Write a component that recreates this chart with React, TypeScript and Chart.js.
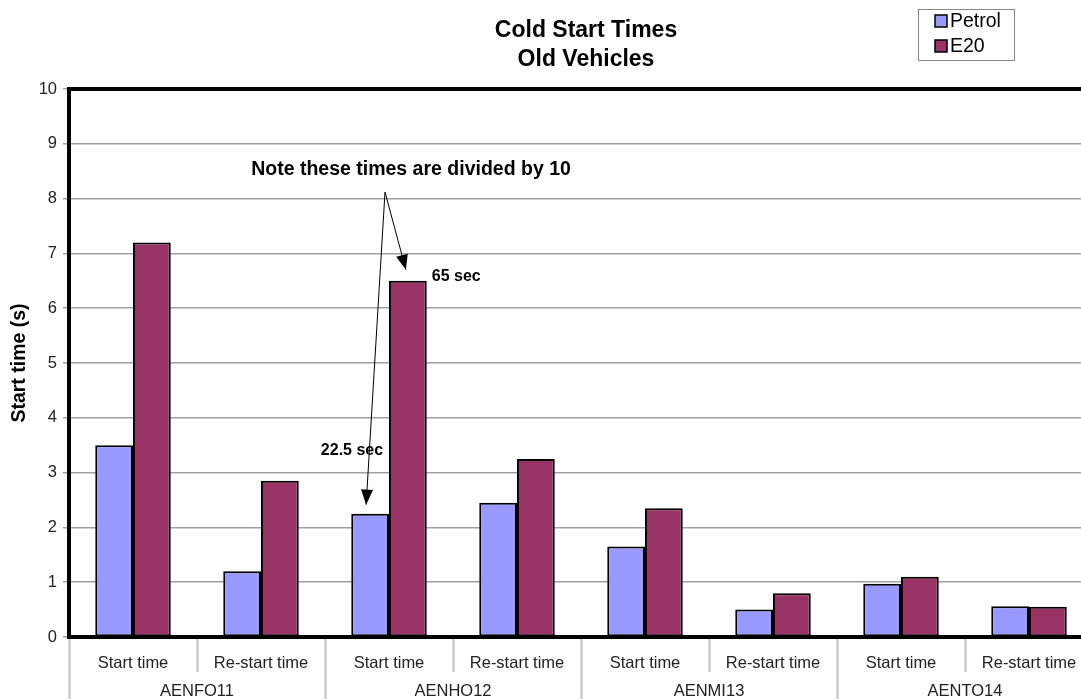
import { useEffect, useRef } from 'react';
import { Chart, registerables } from 'chart.js';

Chart.register(...registerables);

// chart data
const groups = ['AENFO11', 'AENHO12', 'AENMI13', 'AENTO14'];
const categories = [
  'Start time', 'Re-start time',
  'Start time', 'Re-start time',
  'Start time', 'Re-start time',
  'Start time', 'Re-start time',
];
const petrol = [3.5, 1.2, 2.25, 2.45, 1.65, 0.5, 0.97, 0.56];
const e20 = [7.2, 2.85, 6.5, 3.25, 2.35, 0.8, 1.1, 0.55];
const yTicks = [0, 1, 2, 3, 4, 5, 6, 7, 8, 9, 10];

const FONT = '"Liberation Sans", Arial, sans-serif';

// separators, frame, title, legend and the notes
const extrasPlugin = {
  id: 'extras',
  afterDraw(chart: any) {
    const ctx = chart.ctx;
    const area = chart.chartArea;
    const x = chart.scales.x;
    const step = (area.right - area.left) / categories.length;

    ctx.save();
    // category and group separators
    ctx.strokeStyle = '#c0c0c0';
    ctx.lineWidth = 2;
    for (let i = 0; i <= categories.length; i++) {
      const px = Math.round(area.left + i * step) + 0.5;
      ctx.beginPath();
      ctx.moveTo(px, area.bottom);
      ctx.lineTo(px, i % 2 === 0 ? chart.height : area.bottom + 35);
      ctx.stroke();
    }

    // thick frame: left, top, bottom
    ctx.strokeStyle = '#000';
    ctx.lineWidth = 4;
    ctx.beginPath();
    ctx.moveTo(area.right + 10, area.top);
    ctx.lineTo(area.left, area.top);
    ctx.lineTo(area.left, area.bottom);
    ctx.lineTo(area.right + 10, area.bottom);
    ctx.stroke();

    // title
    ctx.fillStyle = '#000';
    ctx.font = `bold 23px ${FONT}`;
    ctx.textAlign = 'center';
    ctx.textBaseline = 'middle';
    ctx.fillText('Cold Start Times', 586, 31);
    ctx.fillText('Old Vehicles', 586, 60);

    // legend
    ctx.strokeStyle = '#888';
    ctx.lineWidth = 1;
    ctx.strokeRect(918.5, 9.5, 96, 51);
    ctx.font = `19.5px ${FONT}`;
    ctx.textAlign = 'left';
    chart.data.datasets.forEach((ds: any, i: number) => {
      const cy = 21 + i * 25;
      ctx.fillStyle = ds.backgroundColor;
      ctx.fillRect(935, cy - 6, 12, 12);
      ctx.strokeStyle = '#000';
      ctx.lineWidth = 1.5;
      ctx.strokeRect(935, cy - 6, 12, 12);
      ctx.fillStyle = '#000';
      ctx.fillText(ds.label, 950, cy + 1);
    });

    // note with arrows
    const y = chart.scales.y;
    const pBar = chart.getDatasetMeta(0).data[2];
    const eBar = chart.getDatasetMeta(1).data[2];
    const cx = x.getPixelForValue(2);
    ctx.font = `bold 19.5px ${FONT}`;
    ctx.textAlign = 'center';
    ctx.fillText('Note these times are divided by 10', cx + 22, y.getPixelForValue(8.52));

    const ox = cx - 4;
    const oy = y.getPixelForValue(8.12);
    const arrow = (tx: number, ty: number) => {
      ctx.strokeStyle = '#000';
      ctx.lineWidth = 1;
      ctx.beginPath();
      ctx.moveTo(ox, oy);
      ctx.lineTo(tx, ty);
      ctx.stroke();
      const a = Math.atan2(ty - oy, tx - ox);
      const len = 15;
      const w = 6;
      ctx.beginPath();
      ctx.moveTo(tx, ty);
      ctx.lineTo(tx - len * Math.cos(a) + w * Math.sin(a), ty - len * Math.sin(a) - w * Math.cos(a));
      ctx.lineTo(tx - len * Math.cos(a) - w * Math.sin(a), ty - len * Math.sin(a) + w * Math.cos(a));
      ctx.closePath();
      ctx.fill();
    };
    arrow(eBar.x - 2, eBar.y - 11);
    arrow(pBar.x - 4, pBar.y - 9);

    ctx.font = `bold 16px ${FONT}`;
    ctx.textAlign = 'left';
    ctx.fillText('65 sec', eBar.x + eBar.width / 2 + 5, eBar.y - 4);
    ctx.textAlign = 'right';
    ctx.fillText('22.5 sec', pBar.x + 13, y.getPixelForValue(3.4));
    ctx.restore();
  },
};

const App = () => {
  const chartRef = useRef<HTMLCanvasElement>(null);
  const chartInstance = useRef<Chart | null>(null);

  useEffect(() => {
    if (!chartRef.current) return;
    if (chartInstance.current) chartInstance.current.destroy();
    const ctx = chartRef.current.getContext('2d');
    if (!ctx) return;

    chartInstance.current = new Chart(ctx, {
      type: 'bar',
      data: {
        labels: categories,
        datasets: [
          {
            label: 'Petrol',
            data: petrol,
            backgroundColor: '#9999ff',
            borderColor: '#000',
            borderWidth: 2,
            borderSkipped: false,
          },
          {
            label: 'E20',
            data: e20,
            backgroundColor: '#993366',
            borderColor: '#000',
            borderWidth: 2,
            borderSkipped: false,
          },
        ],
      },
      options: {
        animation: false,
        responsive: true,
        maintainAspectRatio: false,
        layout: { padding: { top: 89, right: 7, left: 0, bottom: 0 } },
        datasets: {
          bar: { barPercentage: 1, categoryPercentage: 0.59 },
        },
        scales: {
          x: {
            type: 'category',
            grid: { display: false },
            border: { display: false },
            ticks: {
              color: '#222',
              font: { family: FONT, size: 16.5 },
              padding: 9,
              maxRotation: 0,
              autoSkip: false,
            },
            afterFit: (scale: any) => { scale.height = 32; },
          },
          x2: {
            type: 'category',
            position: 'bottom',
            labels: groups,
            grid: { display: false },
            border: { display: false },
            ticks: {
              color: '#222',
              font: { family: FONT, size: 16.5 },
              padding: 5,
              maxRotation: 0,
            },
            afterFit: (scale: any) => { scale.height = 30; },
          },
          y: {
            min: 0,
            max: 10,
            afterBuildTicks: (scale: any) => {
              scale.ticks = yTicks.map((v) => ({ value: v }));
            },
            grid: { color: '#a0a0a0', lineWidth: 1.5, tickLength: 6, tickColor: '#a0a0a0' },
            border: { color: '#000', width: 4 },
            ticks: {
              color: '#222',
              font: { family: FONT, size: 16.5 },
              padding: 6,
            },
            title: {
              display: true,
              text: 'Start time (s)',
              color: '#000',
              font: { family: FONT, size: 19.5, weight: 'bold' },
              padding: { top: 8, bottom: 0 },
            },
            afterFit: (scale: any) => { scale.width = 69; },
          },
        },
        plugins: {
          legend: { display: false },
          tooltip: { enabled: false },
          title: { display: false },
        },
      },
      plugins: [extrasPlugin],
    });

    return () => {
      if (chartInstance.current) {
        chartInstance.current.destroy();
        chartInstance.current = null;
      }
    };
  }, []);

  return (
    <div style={{ position: 'fixed', left: 0, top: 0, width: 1081, height: 699, overflow: 'hidden', background: '#fff' }}>
      <div style={{ position: 'relative', width: 1100, height: 699 }}>
        <canvas ref={chartRef} />
      </div>
    </div>
  );
};

export default App;
